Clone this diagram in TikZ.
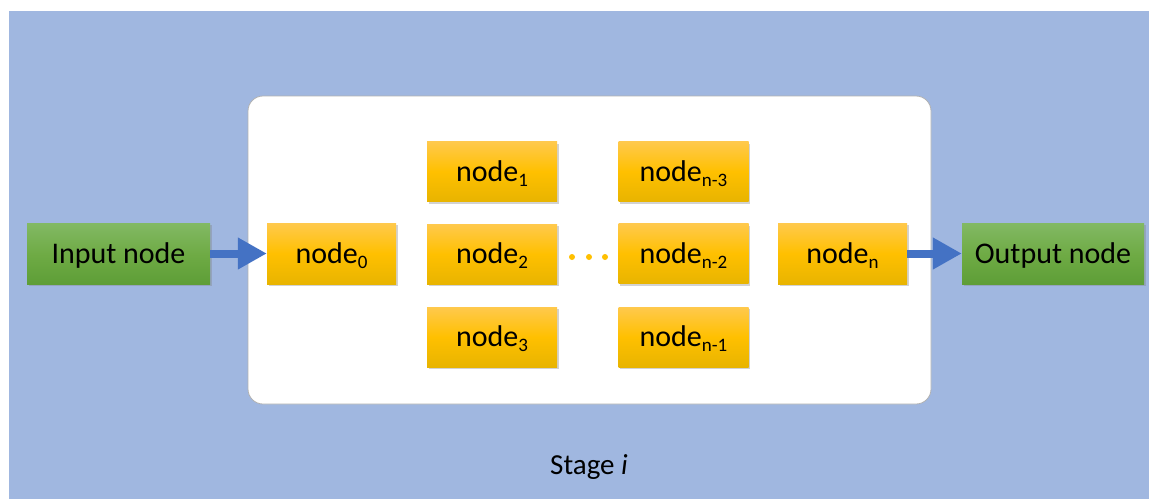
\documentclass[tikz,border=0pt]{standalone}
\usepackage{fontspec}
\setmainfont{Carlito}
\usetikzlibrary{arrows.meta,shadows}
\definecolor{bgblue}{HTML}{A0B7E0}
\definecolor{arrowblue}{HTML}{4472C4}
\definecolor{ytop}{HTML}{FFC94D}
\definecolor{ymid}{HTML}{FFC000}
\definecolor{ybot}{HTML}{E8B400}
\definecolor{gtop}{HTML}{82B964}
\definecolor{gmid}{HTML}{6FAB45}
\definecolor{gbot}{HTML}{5E9E37}
\newcommand{\sbs}[1]{\raisebox{-5pt}{\fontsize{19}{19}\selectfont #1}}
\tikzset{
  box/.style={inner sep=0pt, font=\fontsize{30}{32}\selectfont,
    text height=19pt, text depth=0pt,
    drop shadow={opacity=0.35, shadow xshift=1.5pt, shadow yshift=-2pt}},
  ybox/.style={box, top color=ytop, bottom color=ybot, middle color=ymid,
    minimum width=130pt, minimum height=60pt},
  gbox/.style={box, top color=gtop, bottom color=gbot, middle color=gmid,
    minimum width=183pt, minimum height=61pt},
  flow/.style={draw=arrowblue, line width=8pt, -{Triangle[length=29pt,width=30pt]}},
  dot/.style={circle, fill=ymid, inner sep=0pt, minimum size=6pt}
}
\begin{document}
\begin{tikzpicture}[x=1pt,y=-1pt]
\useasboundingbox (0,0) rectangle (1149,499);
\fill[bgblue] (9,11) rectangle (1149,499);
\filldraw[fill=white, draw=black!30, line width=0.8pt, rounded corners=15pt] (248,96) rectangle (931,404);

\node[gbox] (inp) at (118.5,253.5) {Input node};
\node[ybox, minimum width=129pt, minimum height=61pt] (n0) at (331.5,253.5) {node\sbs{0}};
\node[ybox] (n1) at (492,171.5) {node\sbs{1}};
\node[ybox] (n2) at (492,254) {node\sbs{2}};
\node[ybox] (n3) at (492,337) {node\sbs{3}};
\node[ybox] (m3) at (683.5,171.5) {node\sbs{n-3}};
\node[ybox] (m2) at (683.5,253.5) {node\sbs{n-2}};
\node[ybox] (m1) at (683.5,337) {node\sbs{n-1}};
\node[ybox, minimum width=129pt, minimum height=61pt] (nn) at (842.5,253.5) {node\sbs{n}};
\node[gbox, minimum width=182pt] (out) at (1053,253.5) {Output node};

\node[dot] (d1) at (572,257) {};
\node[dot] (d2) at (589,257) {};
\node[dot] (d3) at (605,257) {};

\draw[flow] (inp.east) -- (n0.west);
\draw[flow] (nn.east) -- (out.west);

\node[font=\fontsize{29}{31}\selectfont, text height=19pt, text depth=0pt, inner sep=0pt] (stage) at (589,464.5) {Stage \textit{i}};
\end{tikzpicture}
\end{document}
